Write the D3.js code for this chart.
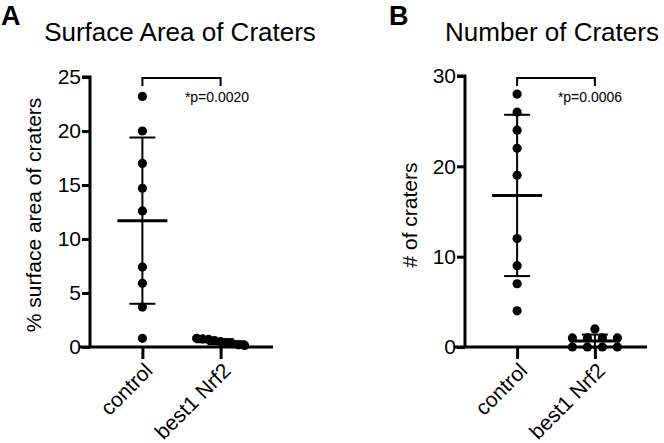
<!DOCTYPE html>
<html><head><meta charset="utf-8">
<script src="https://cdn.jsdelivr.net/npm/d3@7"></script>
<style>
body{margin:0;background:#fff;}
text{font-family:"Liberation Sans",Arial,sans-serif;fill:#000;}
</style></head>
<body><svg id="c" width="664" height="443"></svg>
<script>
// ---- data ----
const categories = ["control", "best1 Nrf2"];
const areaControl = [23.2, 20.0, 17.0, 14.7, 12.6, 7.4, 5.9, 3.7, 0.8];
const areaNrf2 = [0.8, 0.75, 0.7, 0.6, 0.5, 0.4, 0.3, 0.2, 0.15];
const countControl = [28, 26, 24, 22, 19, 12, 9, 7, 4];
const countNrf2 = [2, 1, 1, 1, 1, 0, 0, 0, 0];
const areaTicks = [0, 5, 10, 15, 20, 25];
const countTicks = [0, 10, 20, 30];
const titles = ["Surface Area of Craters", "Number of Craters"];
const yLabels = ["% surface area of craters", "# of craters"];
const panelLetters = ["A", "B"];
const pLabels = ["*p=0.0020", "*p=0.0006"];

const svg = d3.select("#c");

function panel(cfg) {
  const g = svg.append("g");
  const y = d3.scaleLinear().domain(cfg.yDomain).range([347, cfg.yTop]);
  const x = d3.scalePoint().domain(categories).range([cfg.x0, cfg.x1]).padding(0.67);

  // y axis
  const ya = g.append("g").attr("transform", `translate(${cfg.x0},0)`)
    .call(d3.axisLeft(y).tickValues(cfg.ticks).tickSize(8).tickPadding(1).tickFormat(d3.format("d")));
  ya.select(".domain").attr("stroke-width", 3).attr("d", `M-8,${y(cfg.yDomain[1])}H0V${y(0)}`);
  ya.selectAll(".tick line").attr("stroke-width", 3);
  ya.selectAll(".tick text").style("font-size", "21px").attr("fill", "#000");

  // x axis
  const xa = g.append("g").attr("transform", `translate(0,${y(0)})`)
    .call(d3.axisBottom(x).tickSize(12).tickSizeOuter(0));
  xa.select(".domain").attr("stroke-width", 3).attr("d", `M${cfg.x0 - 10},0H${cfg.x1}`);
  xa.selectAll(".tick line").attr("stroke-width", 3);
  xa.selectAll(".tick text").style("font-size", "21px").attr("fill", "#000")
    .attr("text-anchor", "end").attr("y", 0).attr("dy", 0)
    .attr("transform", "translate(11,25) rotate(-45)");

  // points & summaries
  cfg.groups.forEach((vals, gi) => {
    const cx = x(categories[gi]);
    const m = d3.mean(vals), sd = d3.deviation(vals);
    const sorted = vals.slice().sort((a, b) => b - a);
    const rows = [];
    sorted.forEach(v => {
      const last = rows[rows.length - 1];
      if (last && Math.abs(y(last[0]) - y(v)) < cfg.rowTol) last.push(v); else rows.push([v]);
    });
    const pts = [];
    rows.forEach(r => r.forEach((v, i) => pts.push({ v, dx: (i - (r.length - 1) / 2) * cfg.spacing })));
    g.append("g").selectAll("circle").data(pts).join("circle")
      .attr("cx", d => cx + d.dx).attr("cy", d => y(d.v)).attr("r", 4.6).attr("fill", "#000");
    const eb = g.append("g").attr("stroke", "#000").attr("fill", "none");
    eb.append("line").attr("x1", cx).attr("x2", cx).attr("y1", y(m + sd)).attr("y2", y(m - sd)).attr("stroke-width", 2);
    eb.append("line").attr("x1", cx - 13).attr("x2", cx + 13).attr("y1", y(m + sd)).attr("y2", y(m + sd)).attr("stroke-width", 2);
    eb.append("line").attr("x1", cx - 13).attr("x2", cx + 13).attr("y1", y(m - sd)).attr("y2", y(m - sd)).attr("stroke-width", 2);
    eb.append("line").attr("x1", cx - 25).attr("x2", cx + 25).attr("y1", y(m)).attr("y2", y(m)).attr("stroke-width", 3);
  });

  // significance bracket
  const xa0 = x(categories[0]), xa1 = x(categories[1]);
  g.append("path").attr("d", `M${xa0},86V78H${xa1}V86`).attr("fill", "none").attr("stroke", "#000").attr("stroke-width", 2);
  g.append("text").attr("x", cfg.pX).attr("y", 102).attr("text-anchor", "middle").style("font-size", "14px").text(cfg.p);

  // title, letter, y label
  g.append("text").attr("x", cfg.titleX).attr("y", 41).attr("text-anchor", "middle").style("font-size", "26px").text(cfg.title);
  g.append("text").attr("x", cfg.letterX).attr("y", 25).style("font-size", "27px").style("font-weight", "bold").text(cfg.letter);
  g.append("text").attr("transform", `translate(${cfg.yLabX},215) rotate(-90)`).attr("text-anchor", "middle").style("font-size", "21px").text(cfg.yLab);
}

panel({ yDomain: [0, 25], yTop: 77, ticks: areaTicks, x0: 90, x1: 273, groups: [areaControl, areaNrf2],
  rowTol: 10, spacing: 6, title: titles[0], titleX: 180, letter: panelLetters[0], letterX: 1,
  yLab: yLabels[0], yLabX: 41, p: pLabels[0], pX: 217 });
panel({ yDomain: [0, 30], yTop: 76, ticks: countTicks, x0: 465, x1: 647, groups: [countControl, countNrf2],
  rowTol: 3, spacing: 15, title: titles[1], titleX: 552, letter: panelLetters[1], letterX: 389,
  yLab: yLabels[1], yLabX: 417, p: pLabels[1], pX: 590 });
</script></body></html>
